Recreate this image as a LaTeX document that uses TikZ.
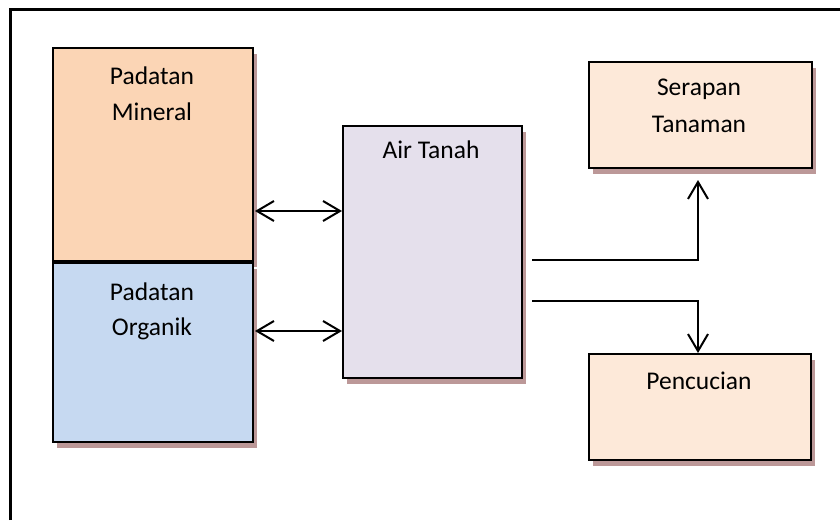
\documentclass[tikz,border=0pt]{standalone}
\usepackage{fontspec}
\setmainfont{Carlito}
\usetikzlibrary{arrows.meta,shadows,calc}

\definecolor{mineralfill}{HTML}{FBD5B5}
\definecolor{organikfill}{HTML}{C6D9F1}
\definecolor{airfill}{HTML}{E5E0EC}
\definecolor{outfill}{HTML}{FDE9D9}
\definecolor{shadowcol}{HTML}{BC9898}

\tikzset{
  box/.style={draw=black, line width=2pt, rectangle, inner sep=0pt,
    anchor=north west,
    drop shadow={shadow xshift=3.5pt, shadow yshift=-5.5pt,
                 fill=shadowcol, opacity=1}},
  lbl/.style={anchor=base, inner sep=0pt, font=\fontsize{25.5}{36}\selectfont},
  conn/.style={line width=2pt},
  tip/.style={-{Straight Barb[length=17pt,width=20pt,line width=2pt]}},
  dtip/.style={{Straight Barb[length=17pt,width=20pt,line width=2pt]}-{Straight Barb[length=17pt,width=20pt,line width=2pt]}}
}

\begin{document}
\begin{tikzpicture}[x=1pt,y=-1pt]
  \useasboundingbox (0,0) rectangle (840,520);
  \fill[white] (0,0) rectangle (840,520);

  % outer frame (left and top edges)
  \draw[line width=3pt] (10,520) -- (10,9) -- (840,9);

  % boxes
  \node[box, fill=mineralfill, minimum width=200pt, minimum height=213pt] (min) at (52,47) {};
  \node[box, fill=organikfill, minimum width=200pt, minimum height=179pt] (org) at (52,262) {};
  \node[box, fill=airfill, minimum width=179pt, minimum height=252pt] (air) at (342,125) {};
  \node[box, fill=outfill, minimum width=223pt, minimum height=106pt] (ser) at (588,61) {};
  \node[box, fill=outfill, minimum width=222pt, minimum height=106pt] (pen) at (588,353) {};

  % labels
  \node[lbl] (minA) at (152,84) {Padatan};
  \node[lbl] (minB) at (152,120) {Mineral};
  \node[lbl] (orgA) at (152,300) {Padatan};
  \node[lbl] (orgB) at (152,335) {Organik};
  \node[lbl] (airA) at (431,158) {Air Tanah};
  \node[lbl] (serA) at (699,95.5) {Serapan};
  \node[lbl] (serB) at (699,132.5) {Tanaman};
  \node[lbl] (penA) at (699,389) {Pencucian};

  % exchange arrows between the solids and soil water
  \coordinate (m1) at (255,211);
  \coordinate (o1) at (255,331);
  \draw[conn, dtip] (m1) -- (m1 -| air.west);
  \draw[conn, dtip] (o1) -- (o1 -| air.west);

  % outflows from soil water
  \coordinate (up0) at (532,260);
  \coordinate (up1) at (698,260);
  \coordinate (dn0) at (532,301);
  \coordinate (dn1) at (698,301);
  \draw[conn, tip, shorten >=11pt] (up0) -- (up1) -- (up1 |- ser.south);
  \draw[conn, tip] (dn0) -- (dn1) -- (dn1 |- pen.north);
\end{tikzpicture}
\end{document}
